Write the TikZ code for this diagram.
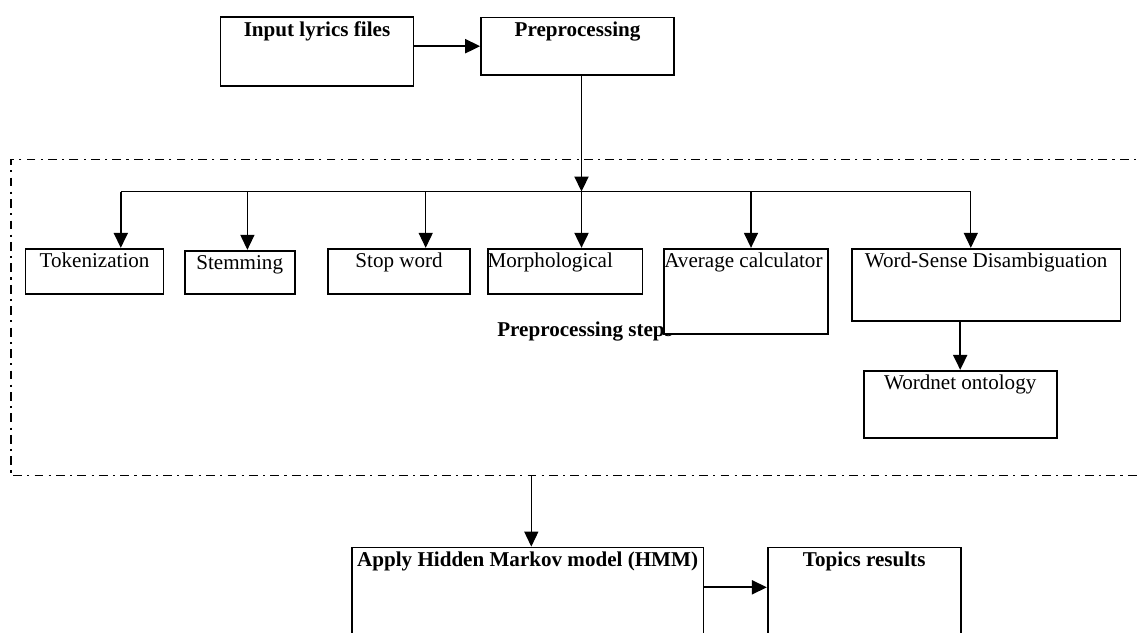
\documentclass[tikz,border=0pt,12pt]{standalone}
\usepackage{fontspec}
\setmainfont{Liberation Serif}
\usetikzlibrary{arrows.meta, positioning}
\tikzset {
    >={Triangle[length=8.5pt, width=8pt]},
    box/.style={draw, line width=1pt, fill=white, inner sep=0pt},
    head/.style={label={[anchor=north, inner sep=2.8pt, font=\bfseries]north:#1}},
    txt/.style={label={[anchor=north, inner sep=2.8pt]north:#1}},
    ltxt/.style={label={[anchor=north west, inner xsep=0.3pt, inner ysep=2.8pt]north west:#1}}
}

\begin{document}
\begin{tikzpicture}[
  x=0.02cm, y=-0.02cm,
  link/.style={line width=1pt},
  twig/.style={line width=0.6pt},
  dashdot/.style={line width=0.6pt, dash pattern=on 5pt off 3pt on 1.2pt off 3pt}
  ]

\useasboundingbox (0,0) rectangle (1141,632);

% frame of the preprocessing steps
\draw[dashdot] (1150,159.2) -- (11,159.2) -- (11,475.6) -- (1150,475.6);
\node[anchor=base west, inner sep=0pt, font=\bfseries] (steps) at (497,336.5) {Preprocessing steps};

\node[box, head=Input lyrics files, minimum width=3.86cm, minimum height=1.38cm] (inp) at (317,51.8) {};
\node[box, head=Preprocessing, minimum width=3.86cm, minimum height=1.15cm] (pre) at (577.5,46.2) {};

\node[box, txt=Tokenization, minimum width=2.76cm, minimum height=0.9cm] (tok) at (94.6,271.2) {};
\node[box, txt=Stemming, minimum width=2.2cm, minimum height=0.86cm] (stem) at (239.7,272.2) {};
\node[box, txt=Stop word, minimum width=2.84cm, minimum height=0.9cm] (stop) at (399.1,271.2) {};
\node[box, ltxt=Morphological, minimum width=3.1cm, minimum height=0.9cm] (morph) at (565.1,271.2) {};
\node[box, ltxt=Average calculator, minimum width=3.28cm, minimum height=1.7cm] (avg) at (746.3,291.2) {};
\node[box, txt=Word-Sense Disambiguation, minimum width=5.38cm, minimum height=1.44cm] (wsd) at (986.1,284.7) {};
\node[box, txt=Wordnet ontology, minimum width=3.86cm, minimum height=1.34cm] (wn) at (960.2,404.2) {};

\node[box, head=Apply Hidden Markov model (HMM), minimum width=7.04cm, minimum height=2.25cm] (hmm) at (527.6,603.7) {};
\node[box, head=Topics results, minimum width=3.86cm, minimum height=2.25cm] (topics) at (864.2,603.7) {};

\coordinate (hub) at (581.5,191.5);
\coordinate (b1) at (120.8,191.5);
\coordinate (b2) at (247.4,191.5);
\coordinate (b3) at (425.7,191.5);
\coordinate (b5) at (751,191.5);
\coordinate (b6) at (970.8,191.5);
\coordinate (out) at (531.3,475.6);
\coordinate (mid) at (735,587.3);

\draw[link, ->] (inp.east |- pre.west) -- (pre.west);
\draw[link, ->] (pre.south -| hub) -- (hub);
\draw[twig] (b1) -- (b6);
\draw[link, ->] (b1) -- (b1 |- tok.north);
\draw[twig, ->] (b2) -- (b2 |- stem.north);
\draw[twig, ->] (b3) -- (b3 |- stop.north);
\draw[link, ->] (hub) -- (hub |- morph.north);
\draw[twig, ->] (b5) -- (b5 |- avg.north);
\draw[twig, ->] (b6) -- (b6 |- wsd.north);
\draw[link, ->] (wsd.south -| wn.north) -- (wn.north);
\draw[twig, ->] (out) -- (out |- hmm.north);
\draw[link, ->] (mid -| hmm.east) -- (mid -| topics.west);

\end{tikzpicture}
\end{document}
